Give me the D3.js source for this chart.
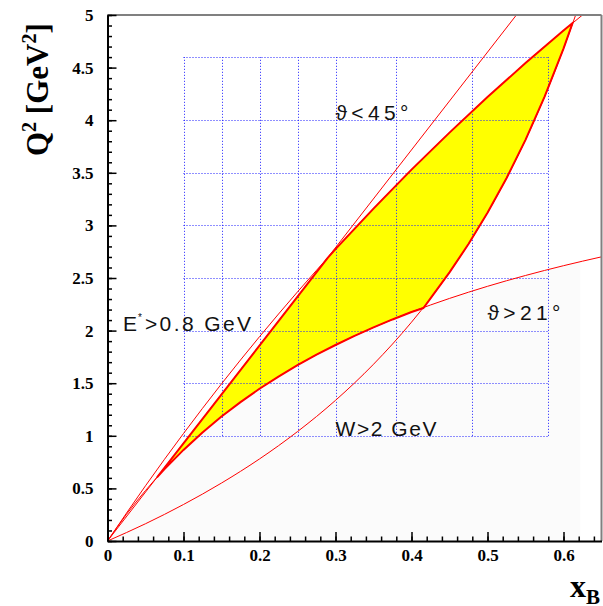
<!DOCTYPE html>
<html><head><meta charset="utf-8">
<script src="https://cdn.jsdelivr.net/npm/d3@7"></script>
<style>body{margin:0;background:#fff}</style>
</head><body><svg id="c" width="603" height="606"></svg>
<script>
// ---- axis ticks ----
const xTickValues=[0,0.1,0.2,0.3,0.4,0.5,0.6];
const xTickLabels=["0","0.1","0.2","0.3","0.4","0.5","0.6"];
const yTickValues=[0,0.5,1,1.5,2,2.5,3,3.5,4,4.5,5];
const yTickLabels=["0","0.5","1","1.5","2","2.5","3","3.5","4","4.5","5"];

// ---- binning grid ----
const gridX=[0.1,0.15,0.2,0.25,0.3,0.38,0.48,0.58];
const gridQ2=[1,1.5,2,2.5,3,3.5,4,4.6];

// ---- E' > 0.8 GeV (thin straight line) ----
const eprimeX=[0,0.27,0.538];
const eprimeQ2=[0,2.51,5.0];
// ---- theta < 45 deg ----
const th45X=[0,0.05,0.1,0.15,0.2,0.25,0.3,0.35,0.4,0.45,0.5,0.55,0.6,0.625];
const th45Q2=[0,0.525,1.022,1.494,1.942,2.368,2.774,3.160,3.530,3.882,4.220,4.543,4.852,5.0];
// ---- theta > 21 deg ----
const th21X=[0,0.025,0.05,0.075,0.1,0.125,0.15,0.175,0.2,0.225,0.25,0.275,0.3,0.325,0.35,0.375,0.4,0.45,0.5,0.55,0.6,0.65];
const th21Q2=[0,0.254,0.480,0.683,0.866,1.032,1.183,1.320,1.447,1.563,1.671,1.771,1.863,1.950,2.030,2.106,2.177,2.306,2.421,2.524,2.617,2.701];
// ---- W > 2 GeV ----
const wX=[0,0.05,0.1,0.15,0.2,0.25,0.3,0.35,0.4,0.425,0.45,0.475,0.5,0.525,0.55,0.575,0.6,0.616];
const wQ2=[0,0.164,0.347,0.551,0.780,1.040,1.337,1.680,2.080,2.306,2.553,2.823,3.120,3.448,3.813,4.221,4.680,5.0];
// ---- accepted region (yellow) ----
const accX=[0.0657,0.29,0.3,0.35,0.4,0.45,0.5,0.55,0.6,0.612,0.6,0.575,0.55,0.525,0.5,0.475,0.45,0.425,0.4158,0.4,0.375,0.35,0.325,0.3,0.275,0.25,0.225,0.2,0.175,0.15,0.125,0.1,0.075,0.0657];
const accQ2=[0.61,2.694,2.774,3.160,3.530,3.882,4.220,4.543,4.852,4.925,4.680,4.221,3.813,3.448,3.120,2.823,2.553,2.306,2.215,2.177,2.106,2.030,1.950,1.863,1.771,1.671,1.563,1.447,1.320,1.183,1.032,0.866,0.683,0.61];
// ---- faint generated-event region ----
const shadeX=[0,0.05,0.1,0.15,0.2,0.25,0.3,0.35,0.4,0.45,0.5,0.55,0.6,0.622,0.622];
const shadeQ2=[0,0.480,0.866,1.183,1.447,1.671,1.863,2.030,2.177,2.306,2.421,2.524,2.617,2.655,0];

const svg=d3.select("#c");
const x=d3.scaleLinear().domain([0,0.65]).range([107.5,601.5]);
const y=d3.scaleLinear().domain([0,5]).range([541,15]);
const zip=(a,b)=>a.map((v,i)=>[v,b[i]]);

svg.append("defs").append("clipPath").attr("id","pa").append("rect")
  .attr("x",x(0)).attr("y",y(5)).attr("width",x(0.65)-x(0)).attr("height",y(0)-y(5));
const plot=svg.append("g").attr("clip-path","url(#pa)");

const lin=d3.line().x(d=>x(d[0])).y(d=>y(d[1]));
const smooth=d3.line().x(d=>x(d[0])).y(d=>y(d[1])).curve(d3.curveMonotoneX);

plot.append("path").attr("d",lin(zip(shadeX,shadeQ2))+"Z").attr("fill","#fbfbfb");
plot.append("path").attr("d",lin(zip(accX,accQ2))+"Z").attr("fill","#ffff00");

const grid=plot.append("g").attr("stroke","#1e1eff").attr("stroke-width",1).attr("stroke-dasharray","1,2");
gridX.forEach(v=>{const px=Math.round(x(v))+0.5;grid.append("line").attr("x1",px).attr("x2",px).attr("y1",y(gridQ2[0])).attr("y2",y(gridQ2[gridQ2.length-1]));});
gridQ2.forEach(v=>{const py=Math.round(y(v))+0.5;grid.append("line").attr("y1",py).attr("y2",py).attr("x1",x(gridX[0])).attr("x2",x(gridX[gridX.length-1]));});

[[eprimeX,eprimeQ2],[th45X,th45Q2],[th21X,th21Q2],[wX,wQ2]].forEach(([a,b])=>{
  plot.append("path").attr("d",smooth(zip(a,b))).attr("fill","none").attr("stroke","#ff0000").attr("stroke-width",1);
});
plot.append("path").attr("d",lin(zip(accX,accQ2))+"Z").attr("fill","none").attr("stroke","#ff0000").attr("stroke-width",2).attr("stroke-linejoin","round");

// frame
svg.append("line").attr("x1",x(0)).attr("x2",x(0.65)).attr("y1",y(5)).attr("y2",y(5)).attr("stroke","#808080").attr("stroke-width",2);
svg.append("line").attr("x1",x(0.65)).attr("x2",x(0.65)).attr("y1",y(5)).attr("y2",y(0)).attr("stroke","#808080").attr("stroke-width",2);

function styleAxis(g){
  g.select(".domain").attr("stroke","#000").attr("stroke-width",2);
  g.selectAll(".tick line").attr("stroke","#000").attr("stroke-width",1.5);
  g.selectAll("text").attr("font-family","'Liberation Serif',serif").attr("font-weight","bold").attr("font-size",17).attr("fill","#000");
}
const ya=svg.append("g").attr("transform",`translate(${x(0)},0)`)
  .call(d3.axisLeft(y).tickValues(yTickValues).tickFormat((d,i)=>yTickLabels[i]).tickSize(-9).tickSizeOuter(0).tickPadding(14));
styleAxis(ya);
const ym=svg.append("g").attr("transform",`translate(${x(0)},0)`)
  .call(d3.axisLeft(y).tickValues(d3.range(0,5.001,0.1)).tickFormat("").tickSize(-4.5).tickSizeOuter(0));
ym.select(".domain").remove(); ym.selectAll("line").attr("stroke","#000").attr("stroke-width",1.5);

const xa=svg.append("g").attr("transform",`translate(0,${y(0)})`)
  .call(d3.axisBottom(x).tickValues(xTickValues).tickFormat((d,i)=>xTickLabels[i]).tickSize(-9).tickSizeOuter(0).tickPadding(8));
styleAxis(xa);
const xm=svg.append("g").attr("transform",`translate(0,${y(0)})`)
  .call(d3.axisBottom(x).tickValues(d3.range(0,0.6501,0.02)).tickFormat("").tickSize(-4.5).tickSizeOuter(0));
xm.select(".domain").remove(); xm.selectAll("line").attr("stroke","#000").attr("stroke-width",1.5);

// axis titles
const yt=svg.append("text").attr("transform","translate(48,156) rotate(-90)")
  .attr("font-family","'Liberation Serif',serif").attr("font-weight","bold").attr("font-size",31).attr("fill","#000");
yt.append("tspan").text("Q");
yt.append("tspan").attr("font-size",20).attr("dy",-12).text("2");
yt.append("tspan").attr("dy",12).text(" [GeV");
yt.append("tspan").attr("font-size",20).attr("dy",-12).text("2");
yt.append("tspan").attr("dy",12).text("]");

const xt=svg.append("text").attr("x",570).attr("y",597)
  .attr("font-family","'Liberation Serif',serif").attr("font-weight","bold").attr("font-size",32).attr("fill","#000");
xt.append("tspan").text("x");
xt.append("tspan").attr("font-size",21).attr("dy",7).text("B");

// annotations
const ann=svg.append("g").attr("font-family","'Liberation Sans',Arial,sans-serif").attr("font-size",21).attr("fill","#111");
function lab(t,xv,qv,w){ann.append("text").attr("x",x(xv)).attr("y",y(qv)).attr("textLength",w).attr("lengthAdjust","spacing").text(t);}
lab("\u03D1<45\u00B0",0.3,4.0,73);
lab("W>2 GeV",0.3,1.0,101);
lab("\u03D1>21\u00B0",0.5,2.1,73);
const et=ann.append("text").attr("x",x(0.0204)).attr("y",y(2.0));
et.append("tspan").text("E");
et.append("tspan").attr("font-size",10).attr("dy",-10).attr("dx",1).text("*");
et.append("tspan").attr("dy",10).attr("dx",3).attr("letter-spacing",2.4).text(">0.8 GeV");
</script></body></html>
